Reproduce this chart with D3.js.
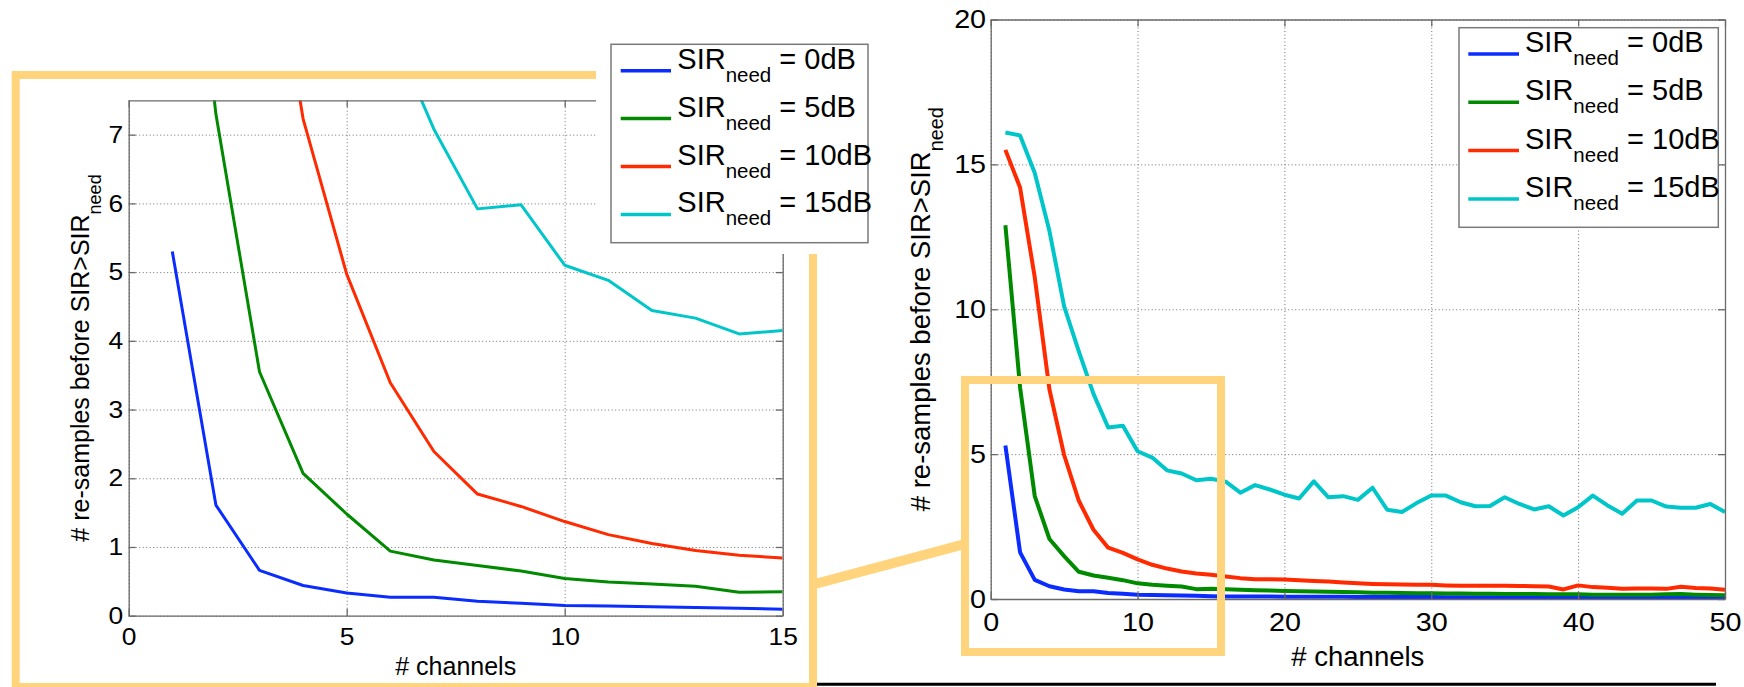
<!DOCTYPE html>
<html><head><meta charset="utf-8">
<script src="https://cdn.jsdelivr.net/npm/d3@7"></script>
<style>
html,body{margin:0;padding:0;background:#fff;}
svg{display:block;}
text{font-family:"Liberation Sans",Arial,Helvetica,sans-serif;fill:#000;white-space:pre;}
</style></head><body>
<svg id="fig" width="1744" height="687"></svg>
<script>
// ---------------- data ----------------
const channels = [1,2,3,4,5,6,7,8,9,10,11,12,13,14,15,16,17,18,19,20,21,22,23,24,25,
                  26,27,28,29,30,31,32,33,34,35,36,37,38,39,40,41,42,43,44,45,46,47,48,49,50];
const sir0dB  = [5.30,1.61,0.66,0.44,0.33,0.27,0.27,0.21,0.18,0.15,0.14,0.13,0.12,0.11,0.095,
                 0.09,0.09,0.09,0.085,0.08,0.08,0.08,0.075,0.075,0.07,0.07,0.07,0.065,0.065,0.065,
                 0.06,0.06,0.06,0.06,0.055,0.055,0.055,0.055,0.05,0.05,0.05,0.05,0.05,0.05,0.045,
                 0.045,0.045,0.045,0.04,0.04];
const sir5dB  = [12.9,7.3,3.55,2.07,1.48,0.94,0.81,0.73,0.65,0.54,0.49,0.46,0.43,0.34,0.35,
                 0.34,0.32,0.30,0.29,0.28,0.27,0.26,0.25,0.24,0.23,0.22,0.22,0.21,0.20,0.20,
                 0.19,0.19,0.18,0.18,0.17,0.17,0.17,0.16,0.16,0.16,0.15,0.15,0.15,0.15,0.15,
                 0.16,0.17,0.15,0.14,0.13];
const sir10dB = [15.5,14.2,11.1,7.23,4.97,3.39,2.39,1.77,1.59,1.37,1.18,1.05,0.95,0.88,0.84,
                 0.78,0.72,0.68,0.68,0.67,0.65,0.62,0.60,0.57,0.54,0.52,0.51,0.50,0.49,0.49,
                 0.47,0.46,0.46,0.46,0.46,0.45,0.44,0.43,0.33,0.47,0.41,0.39,0.35,0.36,0.36,
                 0.35,0.42,0.38,0.36,0.32];
const sir15dB = [16.1,16.0,14.7,12.7,10.1,8.55,7.08,5.92,5.98,5.10,4.88,4.44,4.33,4.10,4.15,
                 4.05,3.67,3.93,3.78,3.60,3.47,4.06,3.51,3.55,3.42,3.84,3.08,3.00,3.31,3.57,
                 3.57,3.34,3.20,3.21,3.51,3.28,3.09,3.20,2.88,3.17,3.57,3.23,2.94,3.40,3.40,
                 3.19,3.15,3.15,3.28,3.00];
const seriesNames  = ["0dB","5dB","10dB","15dB"];
const seriesValues = [sir0dB, sir5dB, sir10dB, sir15dB];
const seriesColors = ["#0a2cff","#008a00","#ff2a00","#00c6c9"];
const leftXTicks  = [0,5,10,15];
const leftYTicks  = [0,1,2,3,4,5,6,7];
const rightXTicks = [0,10,20,30,40,50];
const rightYTicks = [0,5,10,15,20];
const xLabelText = "# channels";
const yLabelMain = "# re-samples before SIR>SIR";
const subText = "need";
const legendPrefix = "SIR";

// ---------------- drawing ----------------
const svg = d3.select("#fig");
const ORANGE = "#ffd47c";
const AXIS = "#6a6a6a";
let clipId = 0;

function panel(c) {
  const g = svg.append("g");
  const x = d3.scaleLinear().domain(c.xDomain).range([c.left, c.right]);
  const y = d3.scaleLinear().domain(c.yDomain).range([c.bottom, c.top]);
  const w = c.right - c.left, h = c.bottom - c.top;

  // grid
  const gridStyle = a => { a.select(".domain").remove();
    a.selectAll("line").attr("stroke", "#6f6f6f").attr("stroke-width", 1).attr("stroke-dasharray", "1,2.5"); };
  g.append("g").attr("transform", `translate(0,${c.bottom})`)
    .call(d3.axisBottom(x).tickValues(c.xTicks).tickSize(-h).tickSizeOuter(0).tickFormat(""))
    .call(gridStyle);
  g.append("g").attr("transform", `translate(${c.left},0)`)
    .call(d3.axisLeft(y).tickValues(c.yTicks).tickSize(-w).tickSizeOuter(0).tickFormat(""))
    .call(gridStyle);

  // clip
  const id = "clip" + (clipId++);
  svg.append("defs").append("clipPath").attr("id", id)
    .append("rect").attr("x", c.left).attr("y", c.top).attr("width", w).attr("height", h);

  const line = d3.line().x(d => x(d[0])).y(d => y(d[1]));
  const lg = g.append("g").attr("clip-path", `url(#${id})`);
  seriesValues.forEach((vals, i) => {
    const pts = channels.slice(0, c.n).map((ch, k) => [ch, vals[k]]);
    lg.append("path").datum(pts).attr("d", line).attr("fill", "none")
      .attr("stroke", seriesColors[i]).attr("stroke-width", c.lw)
      .attr("stroke-linejoin", "round").attr("stroke-linecap", "butt");
  });

  // axes (MATLAB style: inward ticks on all sides)
  const styleAxis = a => {
    a.select(".domain").attr("stroke", AXIS).attr("stroke-width", 1.3);
    a.selectAll(".tick line").attr("stroke", AXIS).attr("stroke-width", 1.3);
    a.selectAll("text").attr("font-size", c.tickFont).attr("fill", "#000")
      .attr("font-family", '"Liberation Sans",Arial,sans-serif');
  };
  const bx = g.append("g").attr("transform", `translate(0,${c.bottom})`)
    .call(d3.axisBottom(x).tickValues(c.xTicks).tickSize(-7).tickSizeOuter(0).tickPadding(c.xPad))
    .call(styleAxis);
  bx.selectAll("text").attr("transform", `scale(${c.stretch},1)`);
  const ly = g.append("g").attr("transform", `translate(${c.left},0)`)
    .call(d3.axisLeft(y).tickValues(c.yTicks).tickSize(-7).tickSizeOuter(0).tickPadding(c.yPad))
    .call(styleAxis);
  ly.selectAll("text").attr("transform", `scale(${c.stretch},1)`);
  g.append("g").attr("transform", `translate(0,${c.top})`)
    .call(d3.axisTop(x).tickValues(c.xTicks).tickSize(-7).tickSizeOuter(0).tickFormat(""))
    .call(styleAxis);
  g.append("g").attr("transform", `translate(${c.right},0)`)
    .call(d3.axisRight(y).tickValues(c.yTicks).tickSize(-7).tickSizeOuter(0).tickFormat(""))
    .call(styleAxis);

  // axis labels
  g.append("text").attr("x", (c.left + c.right) / 2).attr("y", c.xLabelY)
    .attr("text-anchor", "middle").attr("font-size", c.labelFont).text(xLabelText);
  const yl = g.append("text")
    .attr("transform", `translate(${c.yLabelX},${(c.top + c.bottom) / 2}) rotate(-90)`)
    .attr("text-anchor", "middle").attr("font-size", c.labelFont);
  yl.append("tspan").text(yLabelMain);
  yl.append("tspan").attr("font-size", c.labelFont * 0.72).attr("dy", c.labelFont * 0.47).text(subText);
}

function legend(c) {
  const g = svg.append("g");
  g.append("rect").attr("x", c.x).attr("y", c.y).attr("width", c.w).attr("height", c.h)
    .attr("fill", "#fff").attr("stroke", "#7a7a7a").attr("stroke-width", 1.5);
  seriesNames.forEach((name, i) => {
    const ry = c.y0 + i * c.dy;
    g.append("line").attr("x1", c.lx1).attr("x2", c.lx2).attr("y1", ry).attr("y2", ry)
      .attr("stroke", seriesColors[i]).attr("stroke-width", 3.5);
    const t = g.append("text").attr("x", c.tx).attr("y", ry - 2).attr("font-size", 29);
    t.append("tspan").text(legendPrefix);
    t.append("tspan").attr("font-size", 20.5).attr("dy", 13).text(subText);
    t.append("tspan").attr("dy", -13).text(" = " + name);
  });
}

// left (zoomed) panel
panel({left: 128.7, right: 782.7, top: 100.3, bottom: 615.7,
       xDomain: [0, 15], yDomain: [0, 7.5], xTicks: leftXTicks, yTicks: leftYTicks,
       n: 15, lw: 3, tickFont: 24, stretch: 1.1, xPad: 12, yPad: 5,
       labelFont: 25, xLabelY: 675, yLabelX: 89});

// right (full) panel
panel({left: 990.7, right: 1725, top: 19.5, bottom: 599,
       xDomain: [0, 50], yDomain: [0, 20], xTicks: rightXTicks, yTicks: rightYTicks,
       n: 50, lw: 4, tickFont: 25, stretch: 1.15, xPad: 14, yPad: 4,
       labelFont: 27.5, xLabelY: 666, yLabelX: 930});

// connector and frames
svg.append("line").attr("x1", 813).attr("y1", 584.5).attr("x2", 965).attr("y2", 544)
  .attr("stroke", ORANGE).attr("stroke-width", 10);
svg.append("rect").attr("x", 15.7).attr("y", 75).attr("width", 797.3).attr("height", 612)
  .attr("fill", "none").attr("stroke", ORANGE).attr("stroke-width", 8);
svg.append("rect").attr("x", 965).attr("y", 380).attr("width", 256).attr("height", 272)
  .attr("fill", "none").attr("stroke", ORANGE).attr("stroke-width", 8);
svg.append("line").attr("x1", 817).attr("x2", 1716).attr("y1", 684.3).attr("y2", 684.3)
  .attr("stroke", "#000").attr("stroke-width", 3);

// white area around the pasted left legend
svg.append("rect").attr("x", 596).attr("y", 28).attr("width", 290).attr("height", 226).attr("fill", "#fff");

legend({x: 611, y: 44.3, w: 257, h: 198.4, lx1: 620.7, lx2: 671, tx: 677.3, y0: 70.7, dy: 47.9});
legend({x: 1459, y: 27.7, w: 259.3, h: 199.6, lx1: 1468.3, lx2: 1519, tx: 1525, y0: 54, dy: 48.3});
</script>
</body></html>
